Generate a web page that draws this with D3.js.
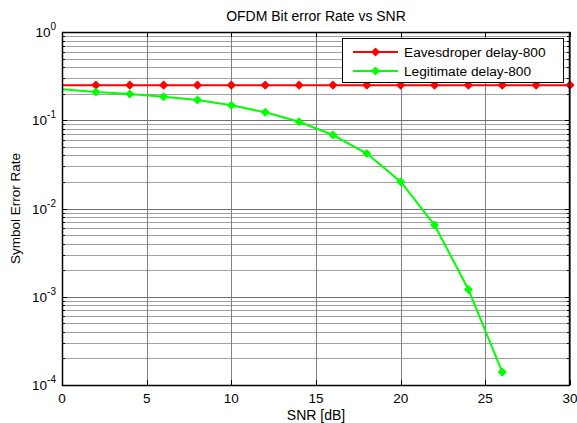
<!DOCTYPE html>
<meta charset="utf-8">
<style>
    body { margin: 0; background: #fff; }
    text { font-family: "Liberation Sans", Arial, sans-serif; fill: #000; }
</style>
<body>
<script src="https://cdn.jsdelivr.net/npm/d3@7"></script>
<script>

    var snr = [0, 2, 4, 6, 8, 10, 12, 14, 16, 18, 20, 22, 24, 26, 28, 30];
    var eveSer = [0.25, 0.25, 0.25, 0.25, 0.25, 0.25, 0.25, 0.25, 0.25, 0.25, 0.25, 0.25, 0.25, 0.25, 0.25, 0.25];
    var legitSnr = [0, 2, 4, 6, 8, 10, 12, 14, 16, 18, 20, 22, 24, 26];
    var legitSer = [0.224, 0.209, 0.198, 0.185, 0.17, 0.148, 0.123, 0.096, 0.068, 0.042, 0.0201, 0.0065, 0.00121, 0.00014];
    var xTicks = [0, 5, 10, 15, 20, 25, 30];
    var yDecades = [0, -1, -2, -3, -4];
    var seriesNames = ["Eavesdroper delay-800", "Legitimate delay-800"];
    var seriesColors = ["#ff0000", "#00ff00"];

    var width = 577, height = 423;
    var margin = {left: 62, right: 7, top: 32, bottom: 38};

    var svg = d3.select("body").append("svg")
        .attr("width", width)
        .attr("height", height);

    var x = d3.scaleLinear().domain([0, 30]).range([margin.left, width - margin.right]);
    var y = d3.scaleLog().domain([1e-4, 1]).range([height - margin.bottom, margin.top]);

    var x0 = x.range()[0], x1 = x.range()[1], y0 = y.range()[0], y1 = y.range()[1];

    // minor log grid
    var minors = [];
    for (var e = -4; e < 0; e++) {
        for (var m = 2; m <= 9; m++) minors.push(m * Math.pow(10, e));
    }
    svg.append("g").selectAll("line").data(minors).enter().append("line")
        .attr("x1", x0).attr("x2", x1)
        .attr("y1", function(d) { return Math.round(y(d)) + 0.5; })
        .attr("y2", function(d) { return Math.round(y(d)) + 0.5; })
        .attr("stroke", "#a0a0a0").attr("stroke-width", 1);

    // major grid
    svg.append("g").selectAll("line").data(yDecades).enter().append("line")
        .attr("x1", x0).attr("x2", x1)
        .attr("y1", function(d) { return Math.round(y(Math.pow(10, d))) + 0.5; })
        .attr("y2", function(d) { return Math.round(y(Math.pow(10, d))) + 0.5; })
        .attr("stroke", "#707070").attr("stroke-width", 1);

    svg.append("g").selectAll("line").data(xTicks).enter().append("line")
        .attr("x1", function(d) { return Math.round(x(d)) + 0.5; })
        .attr("x2", function(d) { return Math.round(x(d)) + 0.5; })
        .attr("y1", y0).attr("y2", y1)
        .attr("stroke", "#808080").attr("stroke-width", 1);

    // inner ticks on all sides
    var tk = svg.append("g").attr("stroke", "#000").attr("stroke-width", 1);
    minors.forEach(function(d) {
        var yy = Math.round(y(d)) + 0.5;
        tk.append("line").attr("x1", x0).attr("x2", x0 + 3).attr("y1", yy).attr("y2", yy);
        tk.append("line").attr("x1", x1).attr("x2", x1 - 3).attr("y1", yy).attr("y2", yy);
    });
    yDecades.forEach(function(d) {
        var yy = Math.round(y(Math.pow(10, d))) + 0.5;
        tk.append("line").attr("x1", x0).attr("x2", x0 + 5).attr("y1", yy).attr("y2", yy);
        tk.append("line").attr("x1", x1).attr("x2", x1 - 5).attr("y1", yy).attr("y2", yy);
    });
    xTicks.forEach(function(d) {
        var xx = Math.round(x(d)) + 0.5;
        tk.append("line").attr("x1", xx).attr("x2", xx).attr("y1", y0).attr("y2", y0 - 5);
        tk.append("line").attr("x1", xx).attr("x2", xx).attr("y1", y1).attr("y2", y1 + 5);
    });

    // series
    var line = d3.line()
        .x(function(d) { return x(d[0]); })
        .y(function(d) { return y(d[1]); });

    var diamond = "M0,-3.5L3.5,0L0,3.5L-3.5,0Z";

    var series = [
        d3.zip(snr, eveSer),
        d3.zip(legitSnr, legitSer)
    ];

    series.forEach(function(pts, i) {
        svg.append("path")
            .attr("d", line(pts))
            .attr("fill", "none")
            .attr("stroke", seriesColors[i])
            .attr("stroke-width", 2);
        svg.append("g").selectAll("path")
            .data(pts.filter(function(p) { return p[0] > 0; }))
            .enter().append("path")
            .attr("d", diamond)
            .attr("transform", function(p) { return "translate(" + x(p[0]) + "," + y(p[1]) + ")"; })
            .attr("fill", seriesColors[i])
            .attr("stroke", seriesColors[i])
            .attr("stroke-width", 1.5)
            .attr("stroke-linejoin", "round");
    });

    // axes box
    svg.append("rect")
        .attr("x", x0 + 0.5).attr("y", y1 + 0.5)
        .attr("width", x1 - x0 - 1).attr("height", y0 - y1)
        .attr("fill", "none").attr("stroke", "#000").attr("stroke-width", 1.5);

    // tick labels
    svg.append("g").selectAll("text").data(xTicks).enter().append("text")
        .attr("x", function(d) { return x(d); })
        .attr("y", y0 + 18)
        .attr("text-anchor", "middle")
        .style("font-size", "13.5px")
        .text(function(d) { return d; });

    var yl = svg.append("g").selectAll("text").data(yDecades).enter().append("text")
        .attr("x", x0 - 6)
        .attr("y", function(d) { return y(Math.pow(10, d)) + 5; })
        .attr("text-anchor", "end")
        .style("font-size", "13.5px");
    yl.append("tspan").text("10");
    yl.append("tspan").attr("dy", -7).style("font-size", "10px").text(function(d) { return d; });

    // titles
    svg.append("text")
        .attr("x", (x0 + x1) / 2).attr("y", 21)
        .attr("text-anchor", "middle")
        .style("font-size", "14px")
        .text("OFDM Bit error Rate vs SNR");

    svg.append("text")
        .attr("x", (x0 + x1) / 2).attr("y", 420)
        .attr("text-anchor", "middle")
        .style("font-size", "14px")
        .text("SNR [dB]");

    svg.append("text")
        .attr("transform", "translate(20," + ((y0 + y1) / 2) + ") rotate(-90)")
        .attr("text-anchor", "middle")
        .style("font-size", "13.5px")
        .text("Symbol Error Rate");

    // legend
    var lg = svg.append("g");
    lg.append("rect")
        .attr("x", 342.5).attr("y", 38.5)
        .attr("width", 221).attr("height", 44)
        .attr("fill", "#fff").attr("stroke", "#000").attr("stroke-width", 1);
    seriesNames.forEach(function(name, i) {
        var ly = 52 + i * 19;
        lg.append("line")
            .attr("x1", 353).attr("x2", 398).attr("y1", ly).attr("y2", ly)
            .attr("stroke", seriesColors[i]).attr("stroke-width", 2);
        lg.append("path")
            .attr("d", diamond)
            .attr("transform", "translate(375.5," + ly + ")")
            .attr("fill", seriesColors[i])
            .attr("stroke", seriesColors[i])
            .attr("stroke-width", 1.5)
            .attr("stroke-linejoin", "round");
        lg.append("text")
            .attr("x", 404).attr("y", ly + 5)
            .style("font-size", "13.7px")
            .text(name);
    });

</script>
